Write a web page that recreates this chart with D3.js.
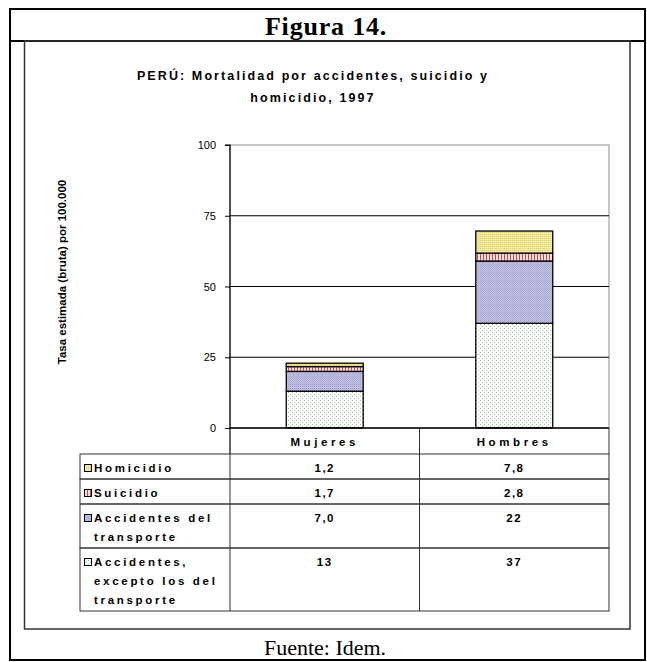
<!DOCTYPE html>
<html>
<head>
<meta charset="utf-8">
<script src="https://cdn.jsdelivr.net/npm/d3@7/dist/d3.min.js"></script>
<style>
  html, body { margin: 0; padding: 0; background: #fff; }
  svg { display: block; }
</style>
</head>
<body>
<svg id="chart" width="647" height="662"></svg>
<script>
// Rates per 100,000 population, Peru 1997
const categories = ["Mujeres", "Hombres"];
const homicidio = [1.2, 7.8];
const suicidio = [1.7, 2.8];
const accidentesTransporte = [7.0, 22];
const accidentesOtros = [13, 37];

const seriesKeys = ["homicidio", "suicidio", "transporte", "otros"];
const seriesLabels = [
  ["Homicidio"],
  ["Suicidio"],
  ["Accidentes del", "transporte"],
  ["Accidentes,", "excepto los del", "transporte"]
];
const yTicks = [0, 25, 50, 75, 100];

const figureTitle = "Figura 14.";
const chartTitle = ["PERÚ: Mortalidad por accidentes, suicidio y", "homicidio, 1997"];
const yAxisTitle = "Tasa estimada (bruta) por 100.000";
const sourceNote = "Fuente: Idem.";

const seriesValues = {
  homicidio: homicidio,
  suicidio: suicidio,
  transporte: accidentesTransporte,
  otros: accidentesOtros
};

const rows = categories.map((c, i) => {
  const r = { category: c };
  seriesKeys.forEach(k => { r[k] = seriesValues[k][i]; });
  return r;
});

const svg = d3.select("#chart");
const sans = "Arial, 'Liberation Sans', Helvetica, sans-serif";
const serif = "'Times New Roman', 'Liberation Serif', serif";

// ---- fill patterns ----
const defs = svg.append("defs");
function pattern(id, w, h, bg, marks) {
  const p = defs.append("pattern").attr("id", id)
    .attr("patternUnits", "userSpaceOnUse").attr("width", w).attr("height", h);
  p.append("rect").attr("width", w).attr("height", h).attr("fill", bg);
  marks.forEach(m => p.append("rect").attr("x", m[0]).attr("y", m[1])
    .attr("width", m[2]).attr("height", m[3]).attr("fill", m[4]));
}
pattern("p-homicidio", 2, 2, "#f3ea9c", [[0, 0, 1, 1, "#dccf78"]]);
pattern("p-suicidio", 3, 3, "#f6dede", [[0, 0, 1, 3, "#c0504d"]]);
pattern("p-transporte", 2, 2, "#c6c6e6", [[0, 0, 1, 1, "#9c9ccc"], [1, 1, 1, 1, "#aeaed6"]]);
pattern("p-otros", 4, 4, "#ffffff", [[0, 0, 1, 1, "#8cc88c"], [2, 2, 1, 1, "#8cc88c"]]);
const fillFor = k => `url(#p-${k})`;

// ---- page frame ----
svg.append("rect").attr("x", 10).attr("y", 9).attr("width", 635).attr("height", 651)
  .attr("fill", "none").attr("stroke", "#000").attr("stroke-width", 2);
svg.append("line").attr("x1", 10).attr("x2", 645).attr("y1", 41).attr("y2", 41)
  .attr("stroke", "#000").attr("stroke-width", 2);
svg.append("rect").attr("x", 24.5).attr("y", 41).attr("width", 605.5).attr("height", 588)
  .attr("fill", "none").attr("stroke", "#333").attr("stroke-width", 1.5);

svg.append("text").attr("x", 326).attr("y", 35).attr("text-anchor", "middle")
  .attr("font-family", serif).attr("font-weight", "bold").attr("font-size", 26)
  .attr("letter-spacing", "0.8px")
  .text(figureTitle);
svg.append("text").attr("x", 325).attr("y", 655).attr("text-anchor", "middle")
  .attr("font-family", serif).attr("font-size", 22)
  .text(sourceNote);

// ---- chart title ----
chartTitle.forEach((t, i) => {
  svg.append("text").attr("x", 313).attr("y", 80 + i * 22).attr("text-anchor", "middle")
    .attr("font-family", sans).attr("font-weight", "bold").attr("font-size", 12.5)
    .attr("letter-spacing", "2.1px").text(t);
});

// ---- scales ----
const plotLeft = 230, plotRight = 609, plotTop = 145, plotBottom = 428;
const x = d3.scaleBand().domain(categories).range([plotLeft, plotRight])
  .paddingInner(0.594).paddingOuter(0.297);
const col = d3.scaleBand().domain(categories).range([plotLeft, plotRight]);
const y = d3.scaleLinear().domain([0, 100]).range([plotBottom, plotTop]);

// plot frame and gridlines
const g = svg.append("g");
g.append("rect").attr("x", plotLeft).attr("y", plotTop)
  .attr("width", plotRight - plotLeft).attr("height", plotBottom - plotTop)
  .attr("fill", "none").attr("stroke", "#8c8c8c").attr("stroke-width", 1);
g.selectAll("line.grid").data(yTicks.filter(t => t > 0 && t < 100)).join("line")
  .attr("class", "grid")
  .attr("x1", plotLeft).attr("x2", plotRight)
  .attr("y1", d => y(d)).attr("y2", d => y(d))
  .attr("stroke", "#000").attr("stroke-width", 1);

// y axis
const yAxis = g.append("g").attr("transform", `translate(${plotLeft},0)`)
  .call(d3.axisLeft(y).tickValues(yTicks).tickSize(5).tickPadding(9));
yAxis.select(".domain").attr("stroke", "#000").attr("stroke-width", 1.2)
  .attr("d", `M-5,${plotTop}H0V${plotBottom + 26}`);
yAxis.selectAll(".tick line").attr("stroke", "#000");
yAxis.selectAll(".tick text").attr("font-family", sans).attr("font-size", 11)
  .attr("fill", "#000");

svg.append("text")
  .attr("transform", `translate(66,272) rotate(-90)`)
  .attr("text-anchor", "middle")
  .attr("font-family", sans).attr("font-weight", "bold").attr("font-size", 11.5)
  .text(yAxisTitle);

// ---- stacked bars ----
const stackOrder = ["otros", "transporte", "suicidio", "homicidio"];
const stacked = d3.stack().keys(stackOrder)(rows);
g.selectAll("g.series").data(stacked).join("g").attr("class", "series")
  .each(function (s) {
    d3.select(this).selectAll("rect").data(s).join("rect")
      .attr("x", d => x(d.data.category))
      .attr("width", x.bandwidth())
      .attr("y", d => y(d[1]))
      .attr("height", d => y(d[0]) - y(d[1]))
      .attr("fill", fillFor(s.key))
      .attr("stroke", "#000").attr("stroke-width", 1.3);
  });

// x axis baseline
g.append("line").attr("x1", plotLeft).attr("x2", plotRight)
  .attr("y1", plotBottom).attr("y2", plotBottom)
  .attr("stroke", "#000").attr("stroke-width", 1.5);

// ---- data table ----
const tableLeft = 80, headerH = 26, lineH = 19, rowPad = 6;
const fmt = v => v < 10 ? v.toFixed(1).replace(".", ",") : String(v);
const tbl = svg.append("g");
const lineStyle = sel => sel.attr("stroke", "#333").attr("stroke-width", 1);

// header row
categories.forEach(c => {
  tbl.append("text").attr("x", col(c) + col.bandwidth() / 2).attr("y", plotBottom + 18)
    .attr("text-anchor", "middle").attr("font-family", sans).attr("font-weight", "bold")
    .attr("font-size", 11.5).attr("letter-spacing", "3.6px").text(c);
});
tbl.append("line").attr("x1", col(categories[1])).attr("x2", col(categories[1]))
  .attr("y1", plotBottom).attr("y2", plotBottom + headerH).call(lineStyle);
tbl.append("line").attr("x1", plotRight).attr("x2", plotRight)
  .attr("y1", plotBottom).attr("y2", plotBottom + headerH).call(lineStyle);

let rowTop = plotBottom + headerH;
seriesKeys.forEach((k, i) => {
  const lines = seriesLabels[i];
  const h = lines.length * lineH + rowPad;
  // cell borders
  tbl.append("rect").attr("x", tableLeft).attr("y", rowTop)
    .attr("width", plotRight - tableLeft).attr("height", h)
    .attr("fill", "none").call(lineStyle);
  [plotLeft, col(categories[1])].forEach(xx => {
    tbl.append("line").attr("x1", xx).attr("x2", xx).attr("y1", rowTop).attr("y2", rowTop + h)
      .call(lineStyle);
  });
  // legend key
  tbl.append("rect").attr("x", 84.5).attr("y", rowTop + 10.5).attr("width", 7).attr("height", 7)
    .attr("fill", fillFor(k)).attr("stroke", "#000").attr("stroke-width", 1);
  lines.forEach((t, j) => {
    tbl.append("text").attr("x", 94).attr("y", rowTop + 17.5 + j * lineH)
      .attr("font-family", sans).attr("font-weight", "bold").attr("font-size", 11.5)
      .attr("letter-spacing", "2.7px").text(t);
  });
  // values
  categories.forEach((c, ci) => {
    tbl.append("text").attr("x", col(c) + col.bandwidth() / 2).attr("y", rowTop + 17.5)
      .attr("text-anchor", "middle").attr("font-family", sans).attr("font-weight", "bold")
      .attr("font-size", 11.5).attr("letter-spacing", "1.5px")
      .text(fmt(seriesValues[k][ci]));
  });
  rowTop += h;
});
</script>
</body>
</html>
